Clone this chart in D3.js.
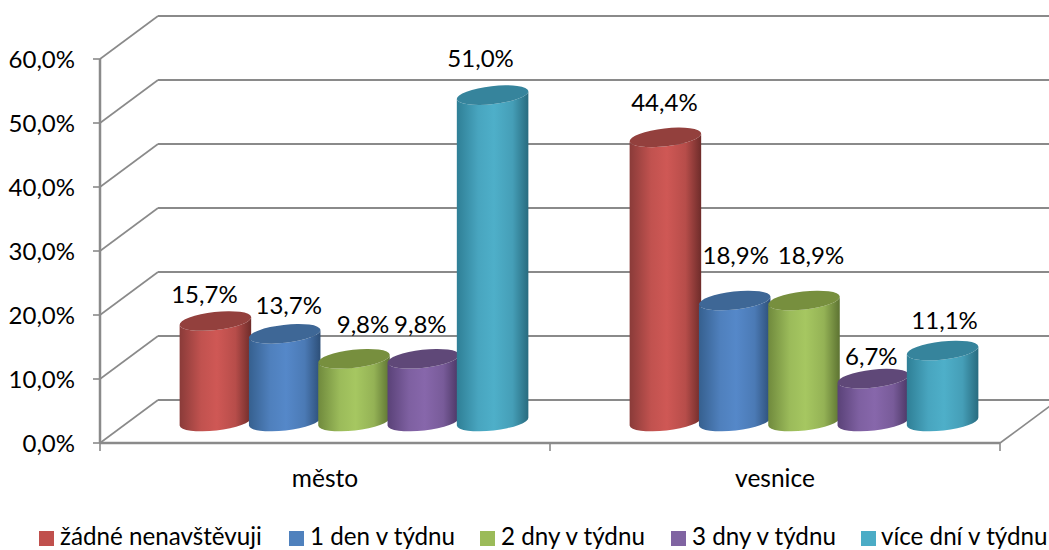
<!DOCTYPE html>
<html><head><meta charset="utf-8">
<script src="https://cdn.jsdelivr.net/npm/d3@7"></script>
<style>html,body{margin:0;padding:0;background:#fff;overflow:hidden}svg{display:block}text{font-family:Lato,"Noto Sans",sans-serif;fill:#000}</style>
</head><body><svg id="c" width="1049" height="550"></svg>
<script>
const categories = ["město","vesnice"];
const seriesNames = ["žádné nenavštěvuji","1 den v týdnu","2 dny v týdnu","3 dny v týdnu","více dní v týdnu"];
const mestoValues = [15.7,13.7,9.8,9.8,51.0];
const vesniceValues = [44.4,18.9,18.9,6.7,11.1];
const yTicks = [0,10,20,30,40,50,60];
// manual data-label nudges, as placed in the source chart
const labelNudgeX = [[-11,4,9,-3,-12],[-1,1,7,-2,2]];
const labelNudgeY = [[-27,-28,-34,-34,-37],[-35,-45,-45,-22,-30]];
const bodyMid = ["#cf5855","#5588c9","#a6c761","#8767ab","#4eafc9"];
const bodyEdgeL = ["#8a3b39","#36608f","#708a3d","#5a4278","#2f7f96"];
const bodyEdgeR = ["#6e2c2a","#2d4f78","#5d7332","#4a3663","#286b7f"];
const topFill = ["#93403d","#3e6796","#778f3e","#5f4878","#36849c"];
const legendSwatch = ["#c0504d","#4f81bd","#9bbb59","#8064a2","#4bacc6"];
const legendX = [39,289,480,671,861];

const svg = d3.select("#c");
const grid = "#8a8a8a";
const depthX = 58, depthY = 43;
const y = d3.scaleLinear().domain([0,60]).range([443,59]);
const x0 = d3.scaleBand().domain(categories).range([100,1000]);
const x1 = d3.scaleBand().domain(d3.range(5)).range([0,346.5]);
const rx = 36, ry = 9, tilt = 6.5, tr = tilt*Math.PI/180;

// gradients
const defs = svg.append("defs");
bodyMid.forEach((c,i)=>{
  const g = defs.append("linearGradient").attr("id","g"+i).attr("x1",0).attr("x2",1).attr("y1",0).attr("y2",0);
  [[0,bodyEdgeL[i]],[0.3,d3.interpolateRgb(bodyEdgeL[i],c)(0.8)],[0.52,c],[0.78,d3.interpolateRgb(bodyEdgeR[i],c)(0.75)],[1,bodyEdgeR[i]]]
    .forEach(s=>g.append("stop").attr("offset",s[0]).attr("stop-color",s[1]));
});

// walls and floor
yTicks.forEach(t=>{
  const yy = y(t);
  svg.append("line").attr("x1",100).attr("y1",yy).attr("x2",100+depthX).attr("y2",yy-depthY).attr("stroke",grid).attr("stroke-width",1.6);
  svg.append("line").attr("x1",100+depthX).attr("y1",yy-depthY).attr("x2",1049).attr("y2",yy-depthY).attr("stroke",grid).attr("stroke-width",2);
  svg.append("line").attr("x1",93).attr("y1",yy).attr("x2",100).attr("y2",yy).attr("stroke",grid).attr("stroke-width",1.6);
  svg.append("text").attr("x",75).attr("y",yy).attr("dy","0.36em").attr("text-anchor","end").attr("font-size",24)
    .text(t.toFixed(1).replace(".",",")+"%");
});
svg.append("line").attr("x1",100).attr("y1",y(0)).attr("x2",100).attr("y2",y(60)).attr("stroke",grid).attr("stroke-width",2.5);
svg.append("line").attr("x1",100).attr("y1",y(0)).attr("x2",1000).attr("y2",y(0)).attr("stroke",grid).attr("stroke-width",2.5);
svg.append("line").attr("x1",1000).attr("y1",y(0)).attr("x2",1000+depthX).attr("y2",y(0)-depthY).attr("stroke",grid).attr("stroke-width",1.6);
[100,550,1000].forEach(v=>svg.append("line").attr("x1",v).attr("x2",v).attr("y1",y(0)).attr("y2",y(0)+8).attr("stroke",grid).attr("stroke-width",1.6));

// cylinders
const rows = [mestoValues,vesniceValues];
const labels = [];
categories.forEach((cat,ci)=>{
  const gx = x0(cat)+x0.bandwidth()/2+depthX/2;
  svg.append("text").attr("x",x0(cat)+x0.bandwidth()/2).attr("y",478).attr("dy","0.36em").attr("text-anchor","middle").attr("font-size",24.5).text(cat);
  rows[ci].forEach((v,i)=>{
    const cx = gx-173.25+x1(i)+x1.bandwidth()/2;
    const by = y(0)-depthY/2, ty = y(v)-depthY/2;
    const ex = rx*Math.cos(tr), ey = rx*Math.sin(tr);
    const path = `M${cx-ex},${ty+ey} L${cx-ex},${by+ey} A${rx},${ry} ${-tilt} 0 0 ${cx+ex},${by-ey} L${cx+ex},${ty-ey} A${rx},${ry} ${-tilt} 0 1 ${cx-ex},${ty+ey} Z`;
    svg.append("path").attr("d",path).attr("fill",`url(#g${i})`);
    svg.append("ellipse").attr("cx",cx).attr("cy",ty).attr("rx",rx).attr("ry",ry)
      .attr("transform",`rotate(${-tilt} ${cx} ${ty})`).attr("fill",topFill[i]);
    labels.push({x:cx+labelNudgeX[ci][i],y:ty+labelNudgeY[ci][i],t:v.toFixed(1).replace(".",",")+"%"});
  });
});
labels.forEach(l=>svg.append("text").attr("x",l.x).attr("y",l.y).attr("dy","0.36em").attr("text-anchor","middle").attr("font-size",24).text(l.t));

// legend
seriesNames.forEach((n,i)=>{
  svg.append("rect").attr("x",legendX[i]).attr("y",531).attr("width",15).attr("height",15).attr("fill",legendSwatch[i]);
  svg.append("text").attr("x",legendX[i]+21-(i===4?1:0)).attr("y",536).attr("dy","0.36em").attr("font-size",24.2).text(n);
});
</script></body></html>
